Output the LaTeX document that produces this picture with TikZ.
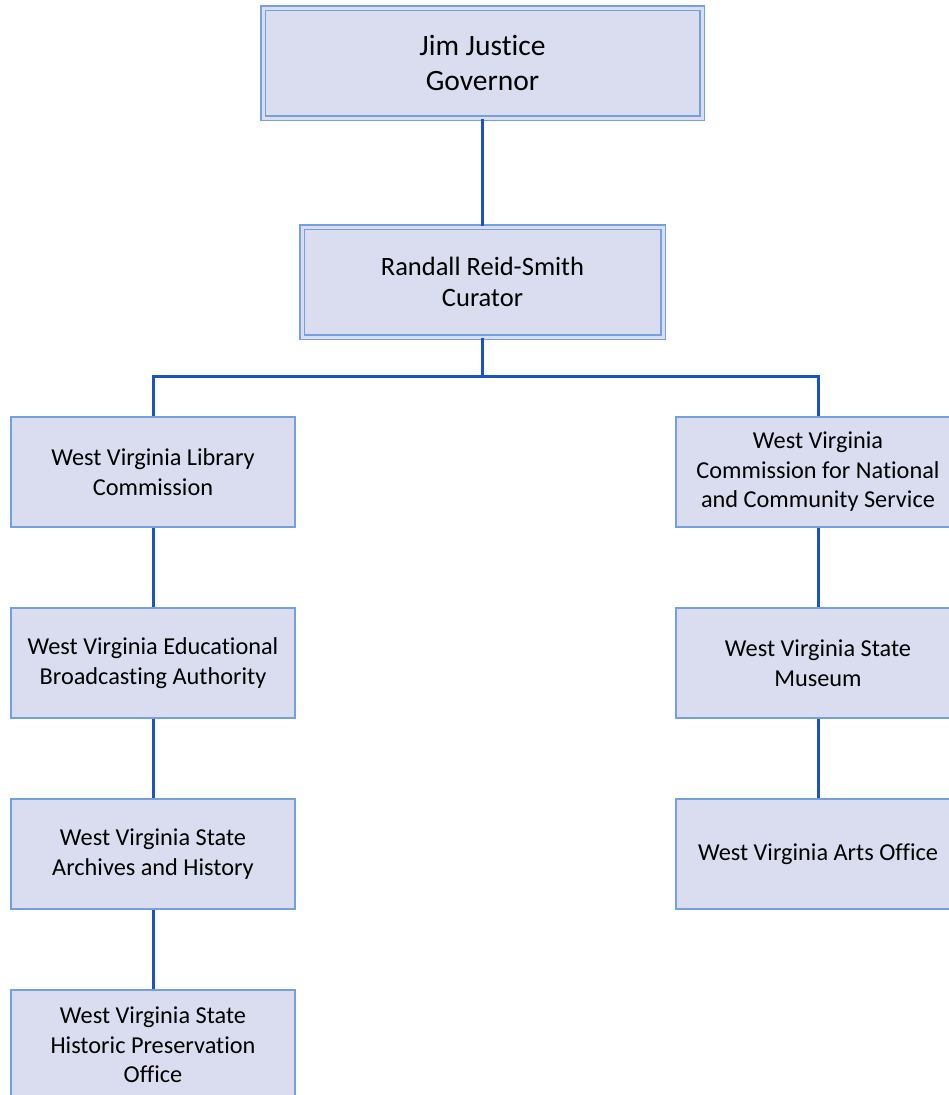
\documentclass[tikz,border=0pt]{standalone}
\usepackage{fontspec}
\setmainfont[RawFeature={-liga;-clig;-calt;-dlig}]{Carlito}
\usetikzlibrary{shadows}
\definecolor{boxfill}{RGB}{218,221,239}
\definecolor{boxline}{RGB}{116,160,222}
\definecolor{conn}{RGB}{24,84,196}
\definecolor{shade}{RGB}{200,200,200}
\begin{document}
\begin{tikzpicture}[x=1pt,y=-1pt,
  orgbox/.style={draw=boxline,fill=boxfill,line width=1.8pt,minimum width=284pt,minimum height=110pt,inner sep=0pt,align=center,text=black,font=\fontsize{24.3}{29.5}\selectfont},
  dblbox/.style={orgbox,double=boxfill,double distance=3pt,line width=1.6pt,drop shadow={shadow xshift=2pt,shadow yshift=-3pt,fill=shade,opacity=0.6}},
  link/.style={draw=conn,line width=3pt}]
\useasboundingbox[fill=white] (0,0) rectangle (949,1095);
\node[dblbox,minimum width=439pt,minimum height=110pt,font=\fontsize{29.5}{35}\selectfont] (gov) at (482.5,63) {Jim Justice\\Governor};
\node[dblbox,minimum width=361pt,minimum height=110pt,font=\fontsize{26.5}{31}\selectfont] (cur) at (482.5,282) {Randall Reid-Smith\\Curator};
\node[orgbox] (lib) at (153,472) {West Virginia Library\\Commission};
\node[orgbox] (edu) at (153,663) {West Virginia Educational\\Broadcasting Authority};
\node[orgbox] (arc) at (153,854) {West Virginia State\\Archives and History};
\node[orgbox] (his) at (153,1045) {West Virginia State\\Historic Preservation\\Office};
\node[orgbox] (com) at (818,472) {West Virginia\\Commission for National\\and Community Service};
\node[orgbox] (mus) at (818,663) {West Virginia State\\Museum};
\node[orgbox] (art) at (818,854) {West Virginia Arts Office};
\coordinate (bus) at (482.5,376);
\draw[link] (gov.south) -- (cur.north);
\draw[link] (cur.south) -- (bus);
\draw[link] (bus) -| (lib.north);
\draw[link] (bus) -| (com.north);
\draw[link] (lib) -- (edu);
\draw[link] (edu) -- (arc);
\draw[link] (arc) -- (his);
\draw[link] (com) -- (mus);
\draw[link] (mus) -- (art);
\end{tikzpicture}
\end{document}
